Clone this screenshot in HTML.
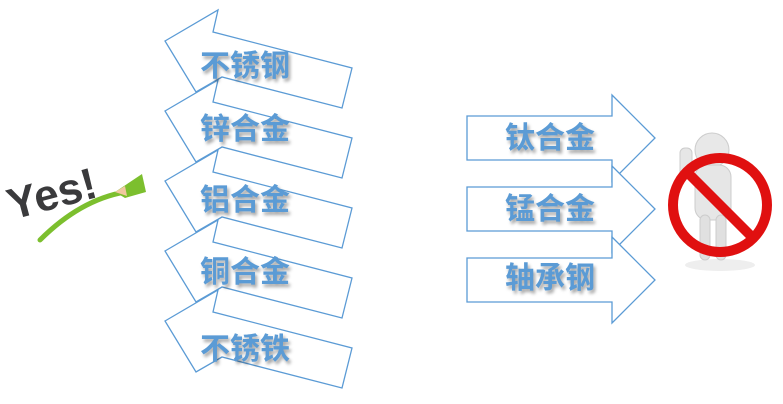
<!DOCTYPE html>
<html><head><meta charset="utf-8"><style>
body{margin:0;width:783px;height:404px;background:#fff;overflow:hidden;position:relative}
.t{position:absolute;font-family:"Liberation Sans","Noto Sans CJK SC",sans-serif;font-size:30px;font-weight:bold;color:#5b9bd5;text-shadow:2px 3px 3px rgba(0,0,0,0.35);line-height:1;white-space:nowrap}
</style></head><body>
<svg width="783" height="404" style="position:absolute;left:0;top:0">
<defs>
<g id="la"><polygon points="165,41 218,10 213,32 352,68 342,108 222,77 196,92" fill="#fff" stroke="#5b9bd5" stroke-width="1.3"/></g>
<g id="ra"><polygon points="467,116 612,116 612,95 655,138 612,181 612,160 467,160" fill="#fff" stroke="#5b9bd5" stroke-width="1.3"/></g>
</defs>
<use href="#la" y="280"/><use href="#la" y="210"/><use href="#la" y="140"/><use href="#la" y="70"/><use href="#la" y="0"/>
<use href="#ra" y="0"/><use href="#ra" y="71"/><use href="#ra" y="142"/>
<!-- Yes -->
<text x="12" y="220" transform="rotate(-15 12 220)" font-family="Liberation Sans" font-weight="900" font-size="44" fill="#3a3a3c">Yes!</text>
<path d="M40,240 Q80,200 125,192" stroke="#7cbf2e" stroke-width="5" fill="none" stroke-linecap="round"/>
<polygon points="115,192 142,174 146,192 125,198" fill="#7cbf2e"/>
<polygon points="115,192 125,186 127,196" fill="#f0c8a0"/>
<!-- stop figure -->
<ellipse cx="720" cy="265" rx="35" ry="6" fill="#eee"/>
<circle cx="712" cy="150" r="17" fill="#e8e8e8" stroke="#ccc"/>
<rect x="695" y="165" width="36" height="55" rx="12" fill="#e6e6e6" stroke="#ccc"/>
<rect x="700" y="215" width="10" height="45" rx="5" fill="#e0e0e0" stroke="#ccc"/>
<rect x="716" y="215" width="10" height="45" rx="5" fill="#e0e0e0" stroke="#ccc"/>
<rect x="680" y="148" width="12" height="28" rx="5" fill="#e6e6e6" stroke="#ccc"/>
<circle cx="720" cy="205" r="47" fill="none" stroke="#e01010" stroke-width="10"/>
<line x1="687" y1="172" x2="753" y2="238" stroke="#e01010" stroke-width="10"/>
</svg>
<div class="t" style="left:200px;top:52px">不锈钢</div>
<div class="t" style="left:200px;top:115px">锌合金</div>
<div class="t" style="left:200px;top:186px">铝合金</div>
<div class="t" style="left:200px;top:258px">铜合金</div>
<div class="t" style="left:200px;top:335px">不锈铁</div>
<div class="t" style="left:505px;top:124px">钛合金</div>
<div class="t" style="left:505px;top:195px">锰合金</div>
<div class="t" style="left:505px;top:264px">轴承钢</div>
</body></html>
